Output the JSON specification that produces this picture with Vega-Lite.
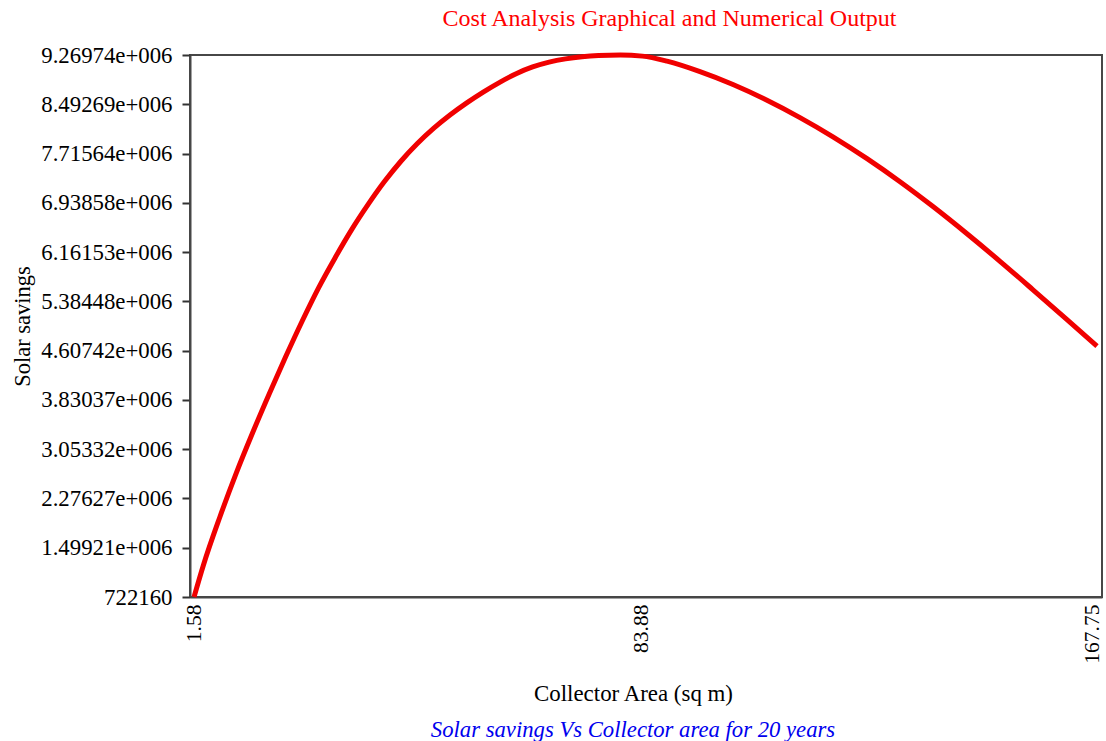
{
  "$schema": "https://vega.github.io/schema/vega-lite/v6.json",
  "autosize": "none",
  "width": 912,
  "height": 542,
  "padding": {"left": 190, "top": 55, "right": 4, "bottom": 144},
  "background": "white",
  "config": {
    "font": "Liberation Serif",
    "view": {"stroke": "#474747", "strokeWidth": 2}
  },
  "title": {
    "text": "Solar savings Vs Collector area for 20 years",
    "orient": "bottom",
    "anchor": "middle",
    "frame": "group",
    "dx": -13,
    "offset": 14,
    "font": "Liberation Serif",
    "fontSize": 22.7,
    "fontStyle": "italic",
    "fontWeight": "normal",
    "color": "#0000ee"
  },
  "data": {
    "values": [
      {"area": 1.58, "savings": 722160},
      {"area": 3.29, "savings": 1220000},
      {"area": 6.32, "savings": 1980000},
      {"area": 9.35, "savings": 2677000},
      {"area": 12.38, "savings": 3317000},
      {"area": 15.41, "savings": 3925000},
      {"area": 18.44, "savings": 4510000},
      {"area": 21.47, "savings": 5071000},
      {"area": 24.50, "savings": 5598000},
      {"area": 27.53, "savings": 6070000},
      {"area": 30.56, "savings": 6512000},
      {"area": 33.59, "savings": 6909000},
      {"area": 36.62, "savings": 7273000},
      {"area": 39.65, "savings": 7594000},
      {"area": 42.68, "savings": 7873000},
      {"area": 45.71, "savings": 8115000},
      {"area": 48.74, "savings": 8327000},
      {"area": 51.77, "savings": 8515000},
      {"area": 54.80, "savings": 8685000},
      {"area": 57.83, "savings": 8839000},
      {"area": 60.86, "savings": 8975000},
      {"area": 63.89, "savings": 9081000},
      {"area": 66.92, "savings": 9157000},
      {"area": 69.95, "savings": 9209000},
      {"area": 72.98, "savings": 9243000},
      {"area": 76.01, "savings": 9262000},
      {"area": 80.05, "savings": 9269740},
      {"area": 84.09, "savings": 9252000},
      {"area": 88.62, "savings": 9172000},
      {"area": 94.69, "savings": 9007000},
      {"area": 100.76, "savings": 8804000},
      {"area": 107.02, "savings": 8556000},
      {"area": 113.09, "savings": 8283000},
      {"area": 119.16, "savings": 7980000},
      {"area": 125.43, "savings": 7635000},
      {"area": 131.50, "savings": 7271000},
      {"area": 137.57, "savings": 6879000},
      {"area": 143.83, "savings": 6450000},
      {"area": 149.90, "savings": 6016000},
      {"area": 155.97, "savings": 5567000},
      {"area": 162.23, "savings": 5098000},
      {"area": 167.75, "savings": 4678000}
    ]
  },
  "layer": [
    {
      "mark": {"type": "line", "color": "#f00000", "strokeWidth": 5, "interpolate": "monotone"},
      "encoding": {
        "x": {
          "field": "area",
          "type": "quantitative",
          "scale": {"domain": [0.84, 168.67], "nice": false, "zero": false},
          "axis": {
            "orient": "bottom",
            "values": [1.58, 83.88, 167.75],
            "labelExpr": "datum.value == 1.58 ? '1.58' : datum.value == 83.88 ? '83.88' : '167.75'",
            "labelAngle": -90,
            "labelAlign": "right",
            "labelBaseline": "middle",
            "labelPadding": 7,
            "labelOffset": {"condition": {"test": "datum.value > 160", "value": -5}, "value": 0},
            "labelFont": "Liberation Serif",
            "labelFontSize": 21.5,
            "labelColor": "#000000",
            "labelOverlap": false,
            "labelFlush": false,
            "ticks": false,
            "tickSize": 0,
            "grid": false,
            "domainColor": "#474747",
            "domainWidth": 2,
            "title": "Collector Area (sq m)",
            "titleFont": "Liberation Serif",
            "titleFontSize": 22.9,
            "titleFontWeight": "normal",
            "titleColor": "#000000",
            "titleX": 443,
            "titleY": 96,
            "titleBaseline": "middle",
            "titleAlign": "center"
          }
        },
        "y": {
          "field": "savings",
          "type": "quantitative",
          "scale": {"domain": [722160, 9269740], "nice": false, "zero": false},
          "axis": {
            "values": [722160, 1499212.73, 2276265.45, 3053318.18, 3830370.91, 4607423.64, 5384476.36, 6161529.09, 6938581.82, 7715640, 8492687.27, 9269740],
            "labelExpr": "datum.value < 1000000 ? '722160' : replace(format(datum.value, '.5e'), 'e+', 'e+00')",
            "labelFont": "Liberation Serif",
            "labelFontSize": 22.8,
            "labelColor": "#000000",
            "labelPadding": 10,
            "labelOverlap": false,
            "labelFlush": false,
            "labelBaseline": "middle",
            "tickSize": 8,
            "tickColor": "#333333",
            "tickWidth": 2,
            "grid": false,
            "domainColor": "#474747",
            "domainWidth": 2,
            "title": "Solar savings",
            "titleFont": "Liberation Serif",
            "titleFontSize": 22.5,
            "titleFontWeight": "normal",
            "titleColor": "#000000",
            "titleAngle": -90,
            "titleX": -168,
            "titleY": 271,
            "titleBaseline": "middle",
            "titleAlign": "center"
          }
        }
      }
    },
    {
      "mark": {"type": "line", "opacity": 0},
      "encoding": {
        "x": {
          "field": "area",
          "type": "quantitative",
          "axis": {
            "orient": "top",
            "labels": false,
            "ticks": false,
            "domain": false,
            "grid": false,
            "title": "Cost Analysis Graphical and Numerical Output",
            "titleFont": "Liberation Serif",
            "titleFontSize": 24,
            "titleFontWeight": "normal",
            "titleColor": "#ff0000",
            "titleX": 479,
            "titleY": -37,
            "titleBaseline": "middle",
            "titleAlign": "center"
          }
        },
        "y": {"field": "savings", "type": "quantitative"}
      }
    }
  ],
  "resolve": {"axis": {"x": "independent"}}
}
